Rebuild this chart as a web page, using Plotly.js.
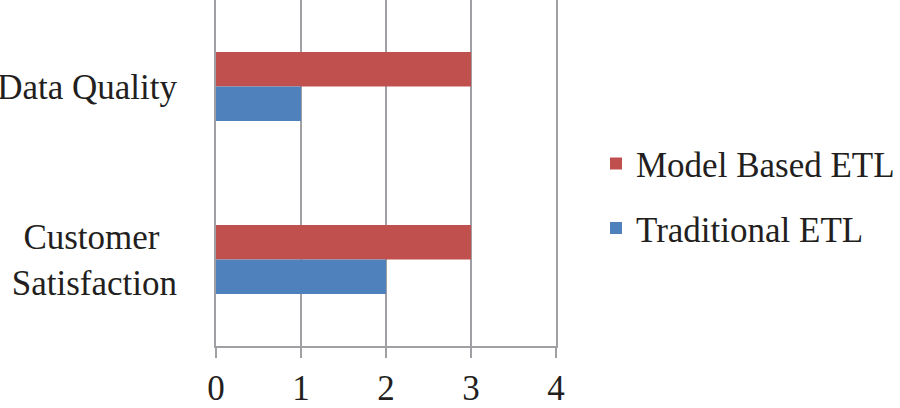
<!DOCTYPE html>
<html>
<head>
<meta charset="utf-8">
<script src="https://cdn.plot.ly/plotly-3.0.1.min.js"></script>
<style>
html,body{margin:0;padding:0;background:#fff;}
#chart{width:900px;height:408px;}
#warm{position:absolute;left:-2000px;top:0;font-family:"Liberation Serif";font-size:35px;}
</style>
</head>
<body>
<div id="warm">Data Quality Customer Satisfaction Model Based ETL Traditional 01234</div>
<div id="chart"></div>
<script>
var categories = ["Data Quality", "Customer&nbsp;&nbsp;<br>Satisfaction"];
var modelBasedETL = [3, 3];
var traditionalETL = [1, 2];
var xTickValues = [0, 1, 2, 3, 4];
var font = "Liberation Serif";
var grey = "#A0A0A4";

var traces = [
  {type: "bar", orientation: "h", name: "Model Based ETL", y: categories, x: modelBasedETL,
   marker: {color: "#C0504D"}, legendgroup: "a"},
  {type: "bar", orientation: "h", name: "Traditional ETL", y: categories, x: traditionalETL,
   marker: {color: "#4F81BD"}, legendgroup: "b"}
];

var layout = {
  width: 900, height: 408,
  margin: {l: 216, r: 344, t: 0, b: 62},
  font: {family: font, size: 35, color: "#231F20"},
  barmode: "group", bargap: 0.6,
  xaxis: {range: [0, 4], tickvals: xTickValues, gridcolor: grey, gridwidth: 2, zeroline: false,
          showline: true, linecolor: grey, linewidth: 2,
          ticks: "outside", ticklen: 10, tickwidth: 2, tickcolor: grey},
  yaxis: {type: "category", range: [1.5, -0.5], ticklabelstandoff: 30,
          showline: true, mirror: true, linecolor: grey, linewidth: 2, ticks: "", showgrid: false},
  legend: {x: 1.118, xanchor: "left", y: 0.434, yanchor: "middle", traceorder: "grouped", tracegroupgap: 16},
  annotations: [{text: "&nbsp;", x: 0, y: 0, xref: "paper", yref: "paper", showarrow: false,
                 font: {family: font, size: 35, color: "#ffffff"}}]
};

var drawn = false;
function draw() {
  if (drawn) return;
  drawn = true;
  Plotly.newPlot("chart", traces, layout, {displayModeBar: false, staticPlot: true});
}
if (document.fonts && document.fonts.load) {
  document.fonts.load("35px 'Liberation Serif'").then(draw, draw);
  setTimeout(draw, 300);
} else {
  draw();
}
</script>
</body>
</html>
